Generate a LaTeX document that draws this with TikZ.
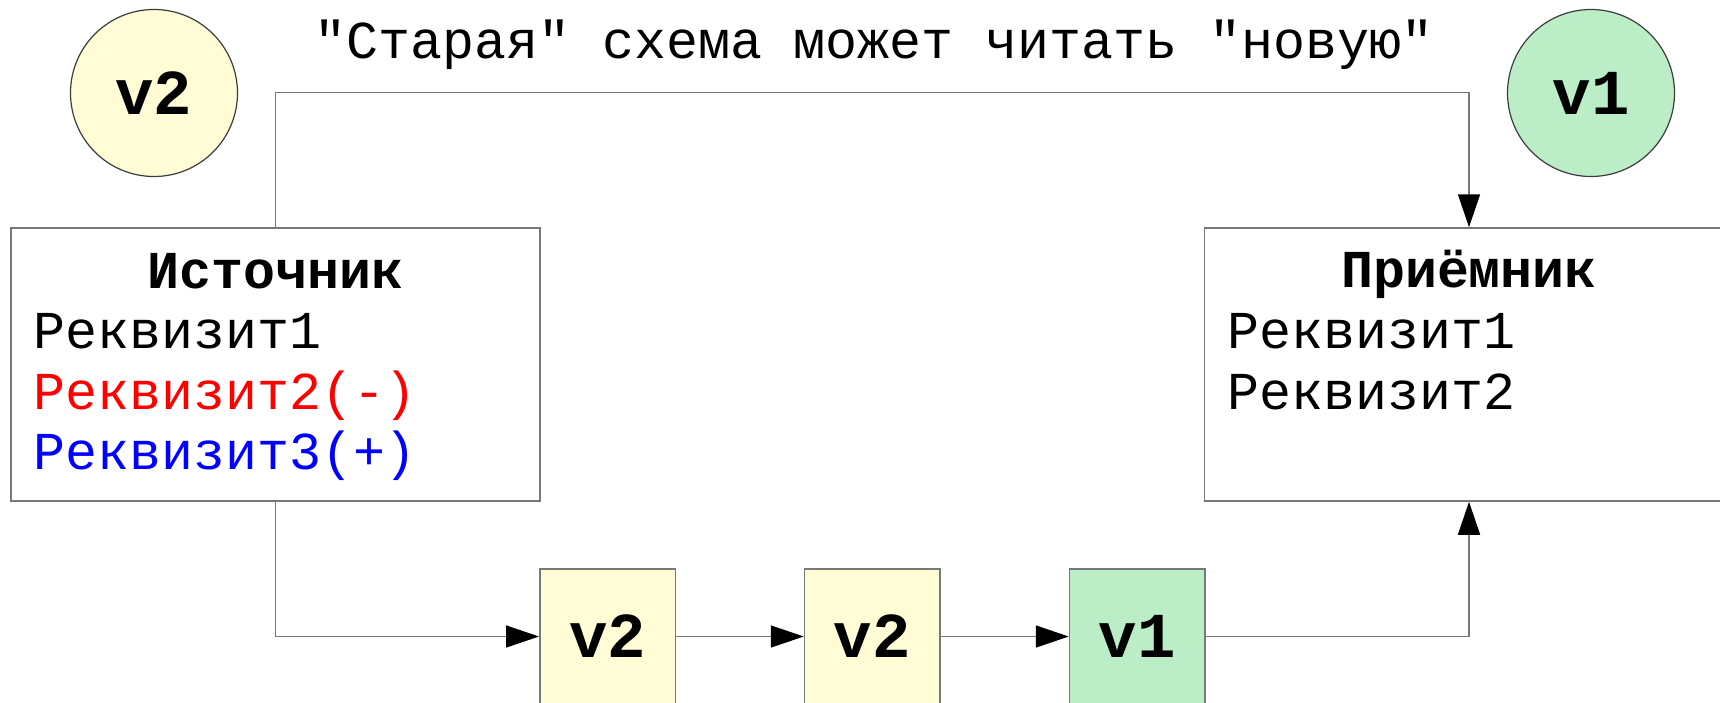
\documentclass[tikz,border=0pt]{standalone}
\usepackage{fontspec}
\setmainfont{Liberation Mono}[Ligatures=TeXOff]
\usetikzlibrary{arrows.meta}
\definecolor{lyellow}{RGB}{255,252,214}
\definecolor{lgreen}{RGB}{187,237,199}
\definecolor{linegray}{RGB}{120,120,120}
\definecolor{circgray}{RGB}{60,60,60}
\definecolor{txtred}{RGB}{255,0,0}
\definecolor{txtblue}{RGB}{0,0,255}
\begin{document}
\begin{tikzpicture}[x=1pt,y=-1pt,
  bigbox/.style={draw=linegray, line width=1.5pt, minimum width=529pt, minimum height=273pt, inner sep=0pt},
  verbox/.style={draw=linegray, line width=1.5pt, minimum width=135.5pt, minimum height=135pt, inner sep=0pt, font=\fontsize{64}{70}\selectfont\bfseries},
  vercirc/.style={circle, draw=circgray, line width=1.2pt, minimum size=167pt, inner sep=0pt, font=\fontsize{64}{70}\selectfont\bfseries},
  txt/.style={anchor=base west, inner sep=0pt, font=\fontsize{53.3}{64}\selectfont},
  ttl/.style={anchor=base, inner sep=0pt, font=\fontsize{53.3}{64}\selectfont\bfseries},
  conn/.style={draw=linegray, line width=1.5pt, -{Triangle[length=33pt,width=22pt,black]}},
  plain/.style={draw=linegray, line width=1.5pt}]
\useasboundingbox (0,0) rectangle (1720,702);
\clip (0,0) rectangle (1720,702);
\fill[white] (0,0) rectangle (1720,702);

% caption
\node[anchor=base, inner sep=0pt, font=\fontsize{53.3}{64}\selectfont] (cap) at (874,58) {"Старая" схема может читать "новую"};

% circles
\node[vercirc, fill=lyellow] (c2) at (154,93) {v2};
\node[vercirc, fill=lgreen] (c1) at (1591,93) {v1};

% big boxes
\node[bigbox] (src) at (275.5,364.5) {};
\node[bigbox] (dst) at (1469,364.5) {};

\node[ttl] (srct) at (275.5,288) {Источник};
\node[txt] (s1) at (33,348) {Реквизит1};
\node[txt, text=txtred] (s2) at (33,409) {Реквизит2(-)};
\node[txt, text=txtblue] (s3) at (33,469.5) {Реквизит3(+)};

\node[ttl] (dstt) at (1469,287) {Приёмник};
\node[txt] (d1) at (1227,348) {Реквизит1};
\node[txt] (d2) at (1227,409) {Реквизит2};

% message boxes
\node[verbox, fill=lyellow] (b1) at (607.5,636.5) {v2};
\node[verbox, fill=lyellow] (b2) at (872.25,636.5) {v2};
\node[verbox, fill=lgreen] (b3) at (1137.25,636.5) {v1};

% connectors
\coordinate (tl) at (275.5,92.5);
\draw[conn] (src.north) -- (tl) -| (dst.north);
\draw[conn] (src.south) |- (b1.west);
\draw[conn] (b1.east) -- (b2.west);
\draw[conn] (b2.east) -- (b3.west);
\draw[conn] (b3.east) -| (dst.south);
\end{tikzpicture}
\end{document}
